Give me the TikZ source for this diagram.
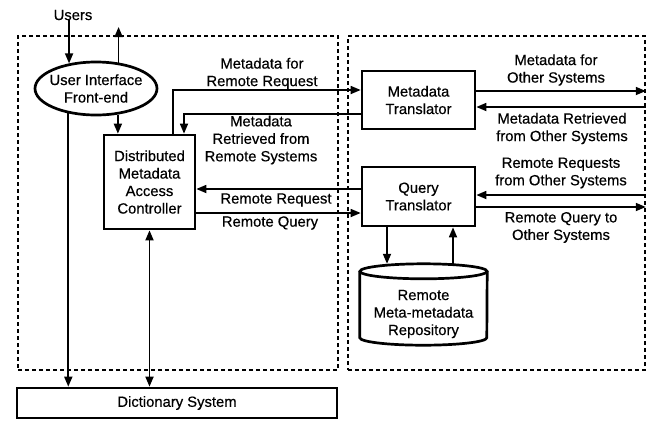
\documentclass[tikz,border=0pt]{standalone}
\usepackage{fontspec}
\setmainfont{Liberation Sans}[UprightFeatures={FakeBold=0.5}]
\usetikzlibrary{arrows.meta,shapes.geometric}
\begin{document}
\begin{tikzpicture}[x=1pt,y=-1pt,
  font=\fontsize{14.8}{17.5}\selectfont,
  box/.style={draw, line width=2.7pt, inner sep=0pt, align=center},
  arr/.style={line width=1.7pt, -{Triangle[length=10pt,width=8pt]}},
  dbl/.style={line width=1.7pt, {Triangle[length=10pt,width=8pt]}-{Triangle[length=10pt,width=8pt]}},
  region/.style={draw, line width=1.6pt, dash pattern=on 4pt off 3pt, inner sep=0pt},
  lbl/.style={align=center, inner sep=0pt}]
\useasboundingbox (0,0) rectangle (655,421);

% dashed regions: local site (left) and remote access (right)
\node[region, minimum width=320pt, minimum height=334pt] (lbox) at (178,203) {};
\node[region, minimum width=297pt, minimum height=334pt] (rbox) at (496.5,203) {};

% components
\node[lbl] (users) at (73,15) {Users};
\node[box, ellipse, inner xsep=-6pt, minimum width=122pt, minimum height=53pt] (ui) at (96,88.5) {User Interface\\Front-end};
\node[box, minimum width=91pt, minimum height=94pt] (dmac) at (149.5,182) {Distributed\\Metadata\\Access\\Controller};
\node[box, minimum width=113pt, minimum height=58pt] (mt) at (418.5,100) {Metadata\\Translator};
\node[box, minimum width=113pt, minimum height=59pt] (qt) at (418.5,196.5) {Query\\Translator};
\node[box, minimum width=320pt, minimum height=30pt] (dict) at (177,403) {Dictionary System};

% repository cylinder
\node[inner sep=0pt, minimum width=127pt, minimum height=81pt] (cyl) at (423.5,304.5) {};
\draw[line width=2.7pt] ([yshift=-7.5pt]cyl.north) ellipse [x radius=63.5pt, y radius=7.5pt];
\draw[line width=2.7pt] ([yshift=-7.5pt]cyl.north west) -- ([yshift=7.5pt]cyl.south west)
  arc[start angle=180, end angle=360, x radius=63.5pt, y radius=7.5pt] -- ([yshift=-7.5pt]cyl.north east);
\node[lbl] (cyltxt) at (423.5,314) {Remote\\Meta-metadata\\Repository};

% user interface connections
\coordinate (uout) at (117,27);
\draw[arr] (ui.137.3 |- users.south) -- (ui.137.3);
\draw[arr] (ui.49.9) -- (ui.49.9 |- uout);
\draw[arr] (ui.222.7) -- (ui.222.7 |- dict.north);
\draw[arr] (ui.310.1) -- (ui.310.1 |- dmac.north);
\draw[dbl] (dmac.south) -- (dmac.south |- dict.north);

% controller <-> translators
\draw[arr] ([xshift=23.5pt]dmac.north) |- ([yshift=10pt]mt.west);
\draw[arr] ([yshift=-14pt]mt.west) -| ([xshift=34.5pt]dmac.north);
\coordinate (rreq) at ([yshift=7.5pt]qt.west);
\coordinate (rqry) at ([yshift=-16.5pt]qt.west);
\draw[arr] (rreq) -- (rreq -| dmac.east);
\draw[arr] (rqry -| dmac.east) -- (rqry);

% translators <-> other systems
\coordinate (m1) at ([yshift=9pt]mt.east);
\coordinate (m2) at ([yshift=-7pt]mt.east);
\coordinate (q1) at ([yshift=1.5pt]qt.east);
\coordinate (q2) at ([yshift=-10.5pt]qt.east);
\draw[arr] (m1) -- (m1 -| rbox.east);
\draw[arr] (m2 -| rbox.east) -- (m2);
\draw[arr] (q1 -| rbox.east) -- (q1);
\draw[arr] (q2) -- (q2 -| rbox.east);

% query translator <-> repository
\coordinate (qd) at ([xshift=-31.5pt]qt.south);
\coordinate (qu) at ([xshift=34.5pt]qt.south);
\draw[arr] (qd) -- (qd |- cyl.north);
\draw[arr] (qu |- cyl.north) -- (qu);

% connector labels
\node[lbl] (l1) at (262,73.5) {Metadata for\\Remote Request};
\node[lbl] (l2) at (261,140) {Metadata\\Retrieved from\\Remote Systems};
\node[lbl] (l3) at (276,200) {Remote Request};
\node[lbl] (l4) at (270,223) {Remote Query};
\node[lbl] (l5) at (556,70) {Metadata for\\Other Systems};
\node[lbl] (l6) at (562,128.5) {Metadata Retrieved\\from Other Systems};
\node[lbl] (l7) at (561,173) {Remote Requests\\from Other Systems};
\node[lbl] (l8) at (561,227.5) {Remote Query to\\Other Systems};
\end{tikzpicture}
\end{document}
